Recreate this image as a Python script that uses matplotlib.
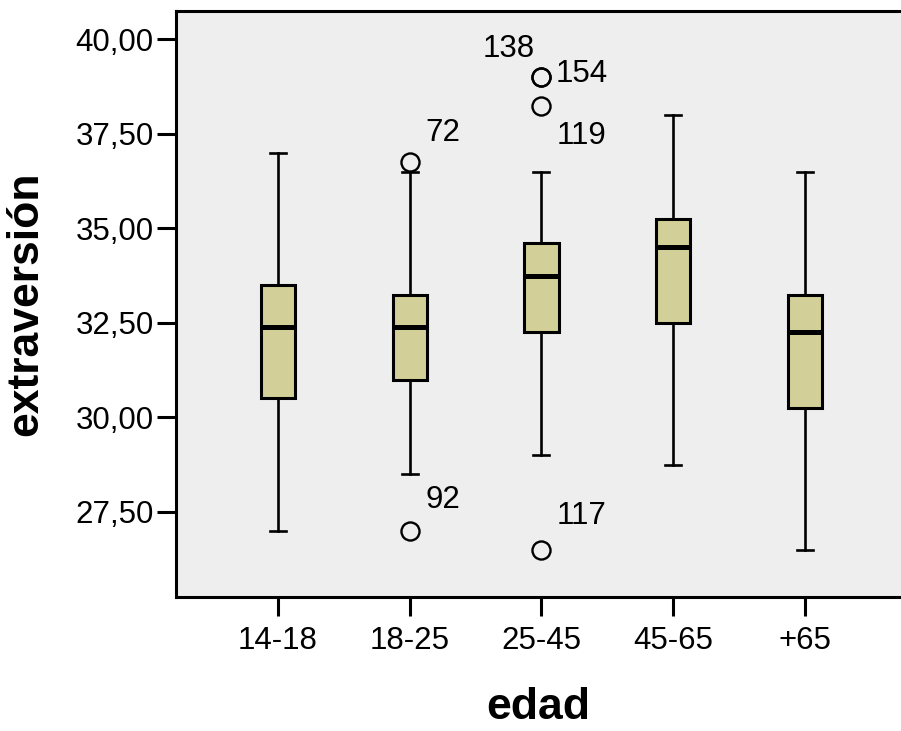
import matplotlib
matplotlib.use("Agg")
import matplotlib.pyplot as plt
from matplotlib.ticker import FixedLocator, FuncFormatter

plt.rcParams['font.family'] = ['Liberation Sans', 'DejaVu Sans']

# extraversión por grupo de edad (resumen del diagrama de caja)
grupos = ["14-18", "18-25", "25-45", "45-65", "+65"]
bigote_inf = [27.0, 28.5, 29.0, 28.75, 26.5]
q1 = [30.5, 31.0, 32.25, 32.5, 30.25]
mediana = [32.4, 32.4, 33.75, 34.5, 32.25]
q3 = [33.5, 33.25, 34.625, 35.25, 33.25]
bigote_sup = [37.0, 36.5, 36.5, 38.0, 36.5]

# casos atípicos: (grupo, valor, etiqueta)
atipicos_grupo = [1, 1, 2, 2, 2, 2]
atipicos_valor = [36.75, 27.0, 39.0, 39.0, 38.25, 26.5]
atipicos_caso = ["72", "92", "138", "154", "119", "117"]
# desplazamiento de cada etiqueta en puntos
atipicos_offset = [(11.5, 21), (11.5, 22), (-42.5, 20), (10, 2), (11, -22), (11, 24)]

stats = []
for i, g in enumerate(grupos):
    fl = [v for gi, v in zip(atipicos_grupo, atipicos_valor) if gi == i]
    stats.append(dict(label=g, whislo=bigote_inf[i], q1=q1[i], med=mediana[i],
                      q3=q3[i], whishi=bigote_sup[i], fliers=fl))

fig = plt.figure(figsize=(9.01, 7.31), dpi=100)
ax = fig.add_axes([0.1953, 0.1833, 0.8047, 0.801])
ax.set_facecolor("#eeeeee")

pos = list(range(1, len(grupos) + 1))
ax.bxp(stats, positions=pos, widths=0.26, patch_artist=True,
       boxprops=dict(facecolor="#d3cf98", edgecolor="black", linewidth=2.2),
       medianprops=dict(color="black", linewidth=3.6),
       whiskerprops=dict(color="black", linewidth=1.9),
       capprops=dict(color="black", linewidth=1.9),
       capwidths=0.12,
       flierprops=dict(marker="o", markersize=13, markerfacecolor="none",
                       markeredgecolor="black", markeredgewidth=1.7))

for gi, v, caso, off in zip(atipicos_grupo, atipicos_valor, atipicos_caso, atipicos_offset):
    ax.annotate(caso, (pos[gi], v), xytext=off, textcoords="offset points",
                fontsize=22.5, ha="left", va="center")

ax.set_xlim(0.226, 5.73)
ax.set_ylim(25.245, 40.74)
ax.yaxis.set_major_locator(FixedLocator([27.5, 30, 32.5, 35, 37.5, 40]))
ax.yaxis.set_major_formatter(FuncFormatter(lambda v, p: f"{v:.2f}".replace(".", ",")))
ax.set_xticks(pos)
ax.set_xticklabels(grupos)

ax.spines["right"].set_visible(False)
for s in ["left", "bottom", "top"]:
    ax.spines[s].set_linewidth(2.2)
ax.tick_params(axis="both", length=14, width=2.2, labelsize=22.5, direction="out")
ax.tick_params(axis="y", pad=2)
ax.tick_params(axis="x", pad=7)

ax.set_ylabel("extraversión", fontsize=32, fontweight="bold", labelpad=21)
ax.set_xlabel("edad", fontsize=32, fontweight="bold", labelpad=22)

fig.savefig("out.png", dpi=100)
